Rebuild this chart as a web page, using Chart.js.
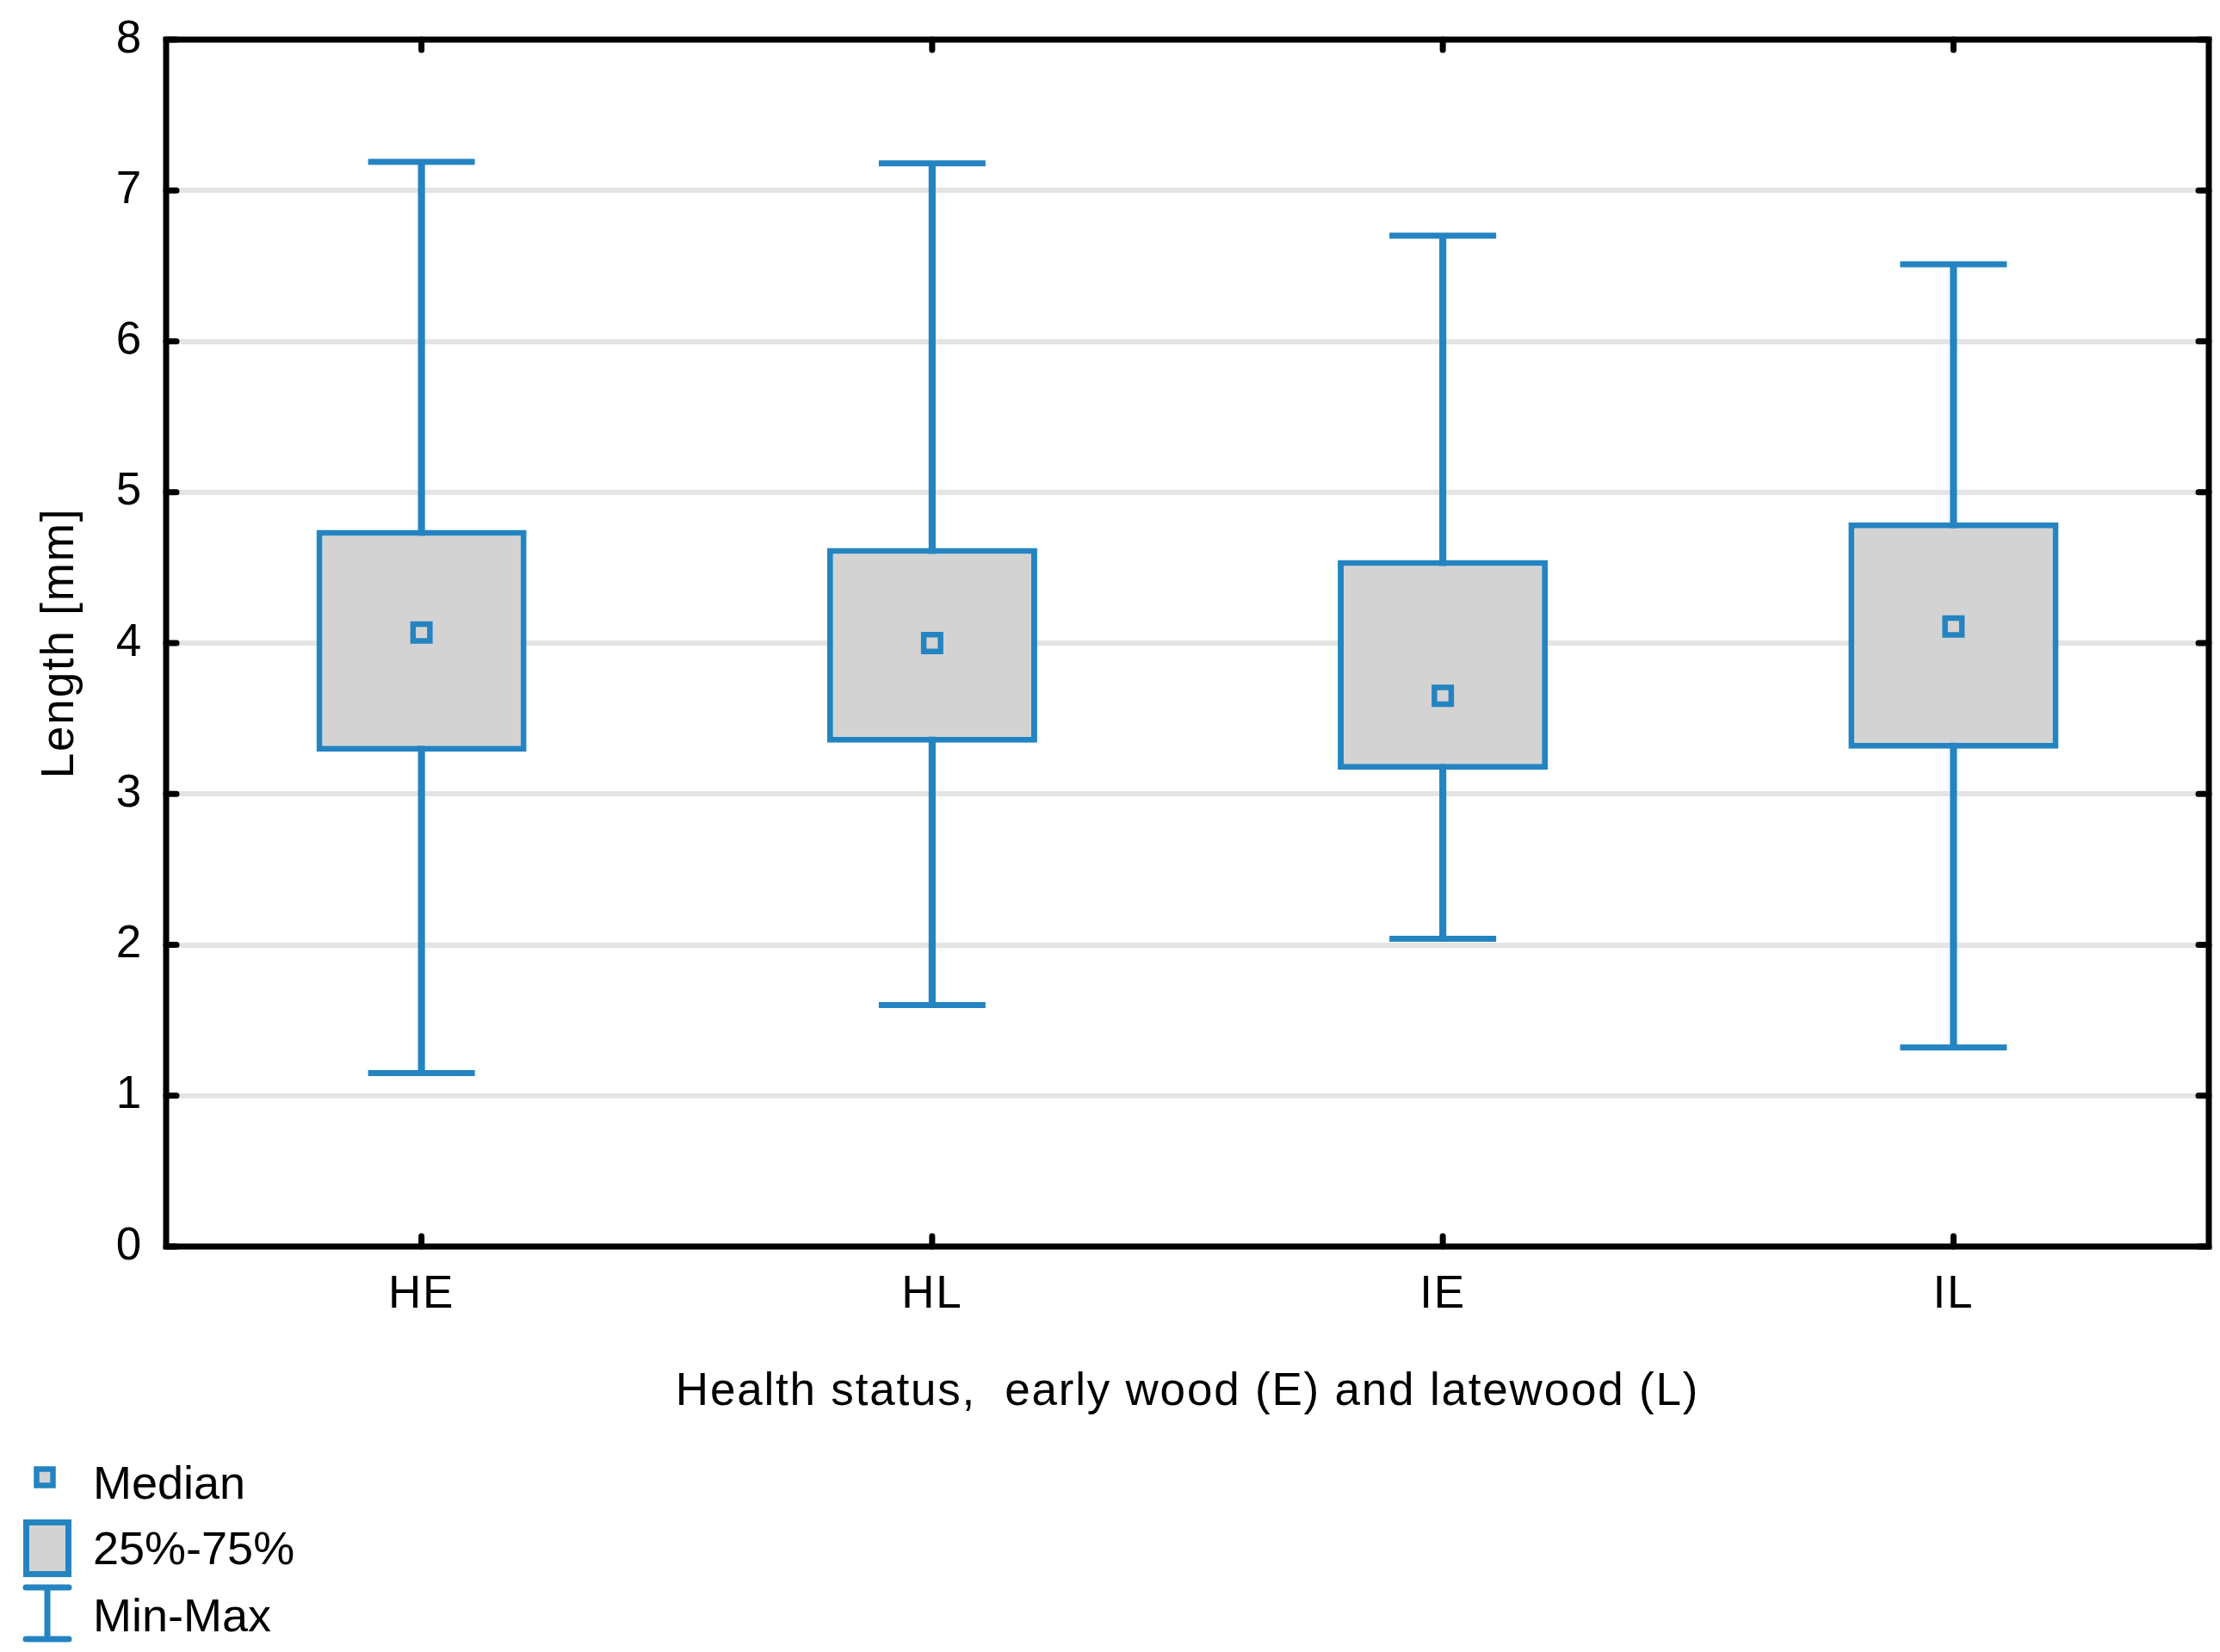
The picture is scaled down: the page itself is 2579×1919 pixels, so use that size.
<!DOCTYPE html>
<html>
<head>
<meta charset="utf-8">
<script src="https://cdn.jsdelivr.net/npm/chart.js@4.4.1/dist/chart.umd.min.js"></script>
<style>
  html, body { margin: 0; padding: 0; background: #ffffff; overflow: hidden; }
  #wrap { width: 2579px; height: 1919px; }
  canvas { display: block; }
</style>
</head>
<body>
<div id="wrap"><canvas id="c" width="2579" height="1919"></canvas></div>
<script>
// ---- data ----
const categories = ['HE', 'HL', 'IE', 'IL'];
const minVals    = [1.15, 1.60, 2.04, 1.32];
const q1Vals     = [3.28, 3.34, 3.16, 3.30];
const medianVals = [4.07, 4.00, 3.65, 4.11];
const q3Vals     = [4.75, 4.63, 4.55, 4.80];
const maxVals    = [7.19, 7.18, 6.70, 6.51];
const yTickValues = [0, 1, 2, 3, 4, 5, 6, 7, 8];
const xTitle = 'Health status,  early wood (E) and latewood (L)';
const yTitle = 'Length [mm]';
const legendLabels = ['Median', '25%-75%', 'Min-Max'];

// ---- style ----
const BLUE = '#2484c1';
const BOXFILL = '#d3d3d3';
const GRID = '#e4e4e4';
const FONT = "'Liberation Sans', Arial, Helvetica, sans-serif";

Chart.defaults.font.family = FONT;
Chart.defaults.color = '#000000';

const spacingPlugin = {
  id: 'spacing',
  beforeDraw(chart) { chart.ctx.letterSpacing = '1.8px'; }
};

const framePlugin = {
  id: 'frame',
  afterDatasetsDraw(chart) {
    const {ctx, chartArea: a, scales: {x, y}} = chart;
    ctx.save();
    ctx.strokeStyle = '#000000';
    ctx.lineWidth = 7;
    ctx.lineCap = 'round';
    const tl = 12;
    ctx.beginPath();
    y.ticks.forEach(t => {
      const py = y.getPixelForValue(t.value);
      ctx.moveTo(a.left, py); ctx.lineTo(a.left + tl, py);
      ctx.moveTo(a.right, py); ctx.lineTo(a.right - tl, py);
    });
    categories.forEach((c, i) => {
      const px = x.getPixelForValue(i);
      ctx.moveTo(px, a.top); ctx.lineTo(px, a.top + tl);
      ctx.moveTo(px, a.bottom); ctx.lineTo(px, a.bottom - tl);
    });
    ctx.stroke();
    ctx.lineCap = 'butt';
    ctx.lineJoin = 'miter';
    ctx.strokeRect(a.left, a.top, a.right - a.left, a.bottom - a.top);
    ctx.restore();
  }
};

const legendPlugin = {
  id: 'customLegend',
  afterDraw(chart) {
    const {ctx} = chart;
    ctx.save();
    ctx.letterSpacing = '0px';
    ctx.strokeStyle = BLUE;
    ctx.fillStyle = BOXFILL;
    // Median symbol
    ctx.lineWidth = 6.5;
    ctx.fillRect(42.5, 1706.5, 19, 19);
    ctx.strokeRect(42.5, 1706.5, 19, 19);
    // Box symbol
    ctx.lineWidth = 7;
    ctx.fillRect(30.5, 1768.5, 49, 60);
    ctx.strokeRect(30.5, 1768.5, 49, 60);
    // Min-Max symbol
    ctx.lineCap = 'round';
    ctx.beginPath();
    ctx.moveTo(30, 1844); ctx.lineTo(80, 1844);
    ctx.moveTo(30, 1904); ctx.lineTo(80, 1904);
    ctx.moveTo(55, 1844); ctx.lineTo(55, 1904);
    ctx.stroke();
    // texts
    ctx.fillStyle = '#000000';
    ctx.font = '54px ' + FONT;
    ctx.textAlign = 'left';
    ctx.textBaseline = 'alphabetic';
    ctx.fillText(legendLabels[0], 108, 1741);
    ctx.fillText(legendLabels[1], 108, 1817);
    ctx.fillText(legendLabels[2], 108, 1895);
    ctx.restore();
  }
};

new Chart(document.getElementById('c'), {
  type: 'bar',
  data: {
    labels: categories,
    datasets: [
      {
        label: 'Median',
        type: 'line',
        data: medianVals,
        showLine: false,
        pointStyle: 'rect',
        pointRadius: 13.8,
        pointHoverRadius: 13.8,
        pointBackgroundColor: BOXFILL,
        pointBorderColor: BLUE,
        pointBorderWidth: 6.5,
        order: 0
      },
      {
        label: 'Max cap',
        type: 'line',
        data: maxVals,
        showLine: false,
        pointStyle: 'line',
        pointRadius: 62,
        pointHoverRadius: 62,
        pointBorderColor: BLUE,
        borderColor: BLUE,
        pointBorderWidth: 7,
        order: 1
      },
      {
        label: 'Min cap',
        type: 'line',
        data: minVals,
        showLine: false,
        pointStyle: 'line',
        pointRadius: 62,
        pointHoverRadius: 62,
        pointBorderColor: BLUE,
        borderColor: BLUE,
        pointBorderWidth: 7,
        order: 1
      },
      {
        label: '25%-75%',
        data: q1Vals.map((v, i) => [v, q3Vals[i]]),
        backgroundColor: BOXFILL,
        borderColor: BLUE,
        borderWidth: 7,
        borderSkipped: false,
        grouped: false,
        categoryPercentage: 1,
        barPercentage: 0.4115,
        order: 2
      },
      {
        label: 'Min-Max',
        data: minVals.map((v, i) => [v, maxVals[i]]),
        backgroundColor: BLUE,
        borderWidth: 0,
        grouped: false,
        barThickness: 7.5,
        order: 3
      }
    ]
  },
  options: {
    responsive: false,
    devicePixelRatio: 1,
    animation: false,
    layout: { autoPadding: false, padding: { left: 0, top: 46, right: 13, bottom: 239 } },
    plugins: {
      legend: { display: false },
      tooltip: { enabled: false }
    },
    scales: {
      x: {
        offset: true,
        grid: { display: false, drawTicks: false },
        border: { display: false },
        ticks: { font: { size: 53 }, padding: 25, color: '#000000' },
        title: { display: true, text: xTitle, font: { size: 53 }, color: '#000000', padding: { top: 0, bottom: 31 } },
        afterFit(s) { s.height = 232; s.paddingLeft = 0; s.paddingRight = 0; }
      },
      y: {
        min: 0,
        max: 8,
        afterBuildTicks(s) { s.ticks = yTickValues.map(v => ({ value: v })); },
        grid: { color: GRID, lineWidth: 6, drawTicks: false },
        border: { display: false },
        ticks: { font: { size: 53 }, padding: 27, color: '#000000' },
        title: { display: true, text: yTitle, font: { size: 53 }, color: '#000000', padding: { top: 39, bottom: 0 } },
        afterFit(s) { s.width = 193; s.paddingTop = 0; s.paddingBottom = 0; }
      }
    }
  },
  plugins: [spacingPlugin, framePlugin, legendPlugin]
});
</script>
</body>
</html>
